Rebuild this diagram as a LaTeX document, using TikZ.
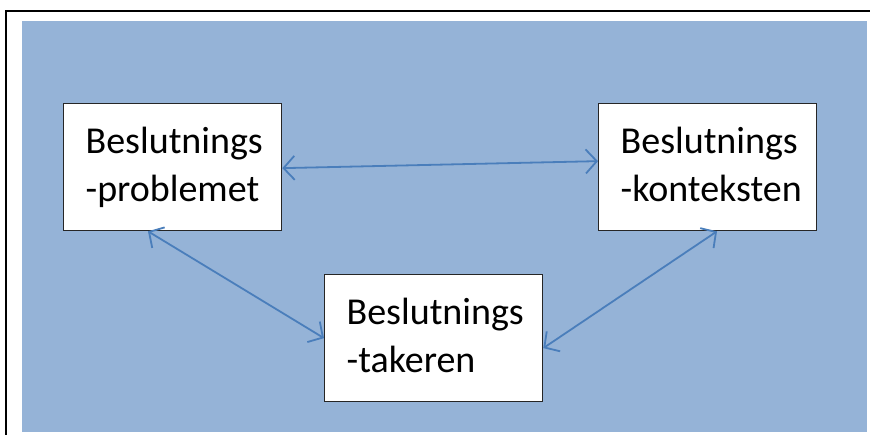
\documentclass[tikz,border=0pt]{standalone}
\usepackage{fontspec}
\setmainfont{Carlito}
\usetikzlibrary{arrows.meta,calc}
\definecolor{bgblue}{HTML}{95B3D7}
\definecolor{arrblue}{HTML}{4A7EBB}
\tikzset{
  box/.style={draw=black!85, line width=1.3pt, fill=white, anchor=north west,
    minimum width=218pt, minimum height=127pt, inner xsep=22pt, inner ysep=0pt,
    text width=174pt, align=left, font=\fontsize{38}{48}\selectfont},
  link/.style={draw=arrblue, line width=1.8pt,
    {Straight Barb[length=11pt,width=24pt,line width=1.8pt]}-{Straight Barb[length=11pt,width=24pt,line width=1.8pt]}}
}
\hbadness=10000 \hfuzz=100pt
\begin{document}
\begin{tikzpicture}[x=1pt,y=-1pt]
\useasboundingbox (0,0) rectangle (870,435);
\fill[white] (0,0) rectangle (870,435);
\draw[black, line width=1.5pt] (6,440) -- (6,11) -- (875,11);
\fill[bgblue] (22,21) rectangle (867,432);
\node[box] (prob) at (63,103) {\mbox{Beslutnings}\\\mbox{-problemet}\vphantom{p}};
\node[box] (kont) at (598,103) {\mbox{Beslutnings}\\\mbox{-konteksten}\vphantom{p}};
\node[box] (tak) at (324,274) {\mbox{Beslutnings}\\\mbox{-takeren}\vphantom{p}};
\draw[link] ([yshift=-1pt]prob.east) -- ([yshift=6pt]kont.west);
\draw[link] ([xshift=85pt]prob.south west) -- (tak.west);
\draw[link] ([xshift=119pt]kont.south west) -- ([yshift=-10pt]tak.east);
\end{tikzpicture}
\end{document}
